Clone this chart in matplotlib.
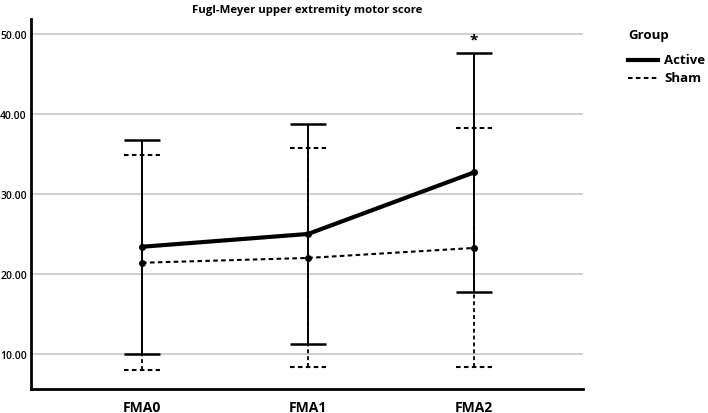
import matplotlib
matplotlib.use("Agg")
import matplotlib.pyplot as plt
import numpy as np
from matplotlib.lines import Line2D

plt.rcParams['font.family'] = ['Open Sans', 'DejaVu Sans']

categories = ["FMA0", "FMA1", "FMA2"]
active_mean = [23.4, 25.0, 32.7]
active_low = [10.0, 11.25, 17.8]
active_high = [36.75, 38.75, 47.7]
sham_mean = [21.4, 22.0, 23.25]
sham_low = [8.0, 8.3, 8.4]
sham_high = [34.9, 35.75, 38.2]
yticks = [10, 20, 30, 40, 50]
ytick_labels = ["10.00", "20.00", "30.00", "40.00", "50.00"]
title = "Fugl-Meyer upper extremity motor score"
legend_title = "Group"
legend_labels = ["Active", "Sham"]

W, H = 708, 414
fig = plt.figure(figsize=(W/100, H/100), dpi=100)
ax = fig.add_axes([31/W, 1-390/H, (583-31)/W, (390-20)/H])
x = np.arange(len(categories))
capw = 0.11

sham_ls = (0, (2.2, 1.6))
# Sham error bars (dashed)
ax.vlines(x, sham_low, sham_high, colors='black', linestyles=[sham_ls], lw=1.3, zorder=2)
ax.hlines(sham_low, x - capw, x + capw, colors='black', linestyles=[sham_ls], lw=1.5, zorder=2)
ax.hlines(sham_high, x - capw, x + capw, colors='black', linestyles=[sham_ls], lw=1.5, zorder=2)
# Active error bars (solid)
ax.vlines(x, active_low, active_high, colors='black', lw=1.4, zorder=3)
ax.hlines(active_low, x - capw, x + capw, colors='black', lw=1.8, zorder=3)
ax.hlines(active_high, x - capw, x + capw, colors='black', lw=1.8, zorder=3)

ax.plot(x, sham_mean, color='black', ls=sham_ls, lw=1.5, marker='o', ms=4, zorder=4)
ax.plot(x, active_mean, color='black', ls='-', lw=3, marker='o', ms=4, zorder=5)

ax.annotate("*", xy=(x[2], 50), xytext=(0, -4), textcoords='offset points',
            ha='center', va='center', fontsize=11, fontweight='bold')

ax.set_xlim(-0.669, 2.657)
ax.set_ylim(5.6, 51.9)
ax.set_yticks(yticks)
ax.set_yticklabels(ytick_labels, fontsize=7.5, fontweight='semibold')
ax.set_xticks(x)
ax.set_xticklabels(categories, fontsize=10, fontweight='bold')
ax.tick_params(axis='both', length=0)
ax.tick_params(axis='y', pad=3)
ax.tick_params(axis='x', pad=8)
ax.yaxis.grid(True, color='#cccccc', lw=1.3)
ax.set_axisbelow(True)
for s in ['top', 'right']:
    ax.spines[s].set_visible(False)
for s in ['left', 'bottom']:
    ax.spines[s].set_linewidth(2)

fig.text(307/W, 1-11/H, title, ha='center', va='center', fontsize=8.2, fontweight='bold')

# Legend (manual placement)
fig.text(628/W, 1-35/H, legend_title, ha='left', va='center', fontsize=9.5, fontweight='bold')
styles = [dict(lw=3, ls='-'), dict(lw=1.5, ls=sham_ls)]
for i, (lab, st) in enumerate(zip(legend_labels, styles)):
    yy = 1 - (61 + 18*i)/H
    fig.add_artist(Line2D([628/W, 658/W], [yy, yy], transform=fig.transFigure, color='black', **st))
    fig.text(664/W, yy, lab, ha='left', va='center', fontsize=9.5, fontweight='bold')

fig.savefig("out.png", dpi=100)
